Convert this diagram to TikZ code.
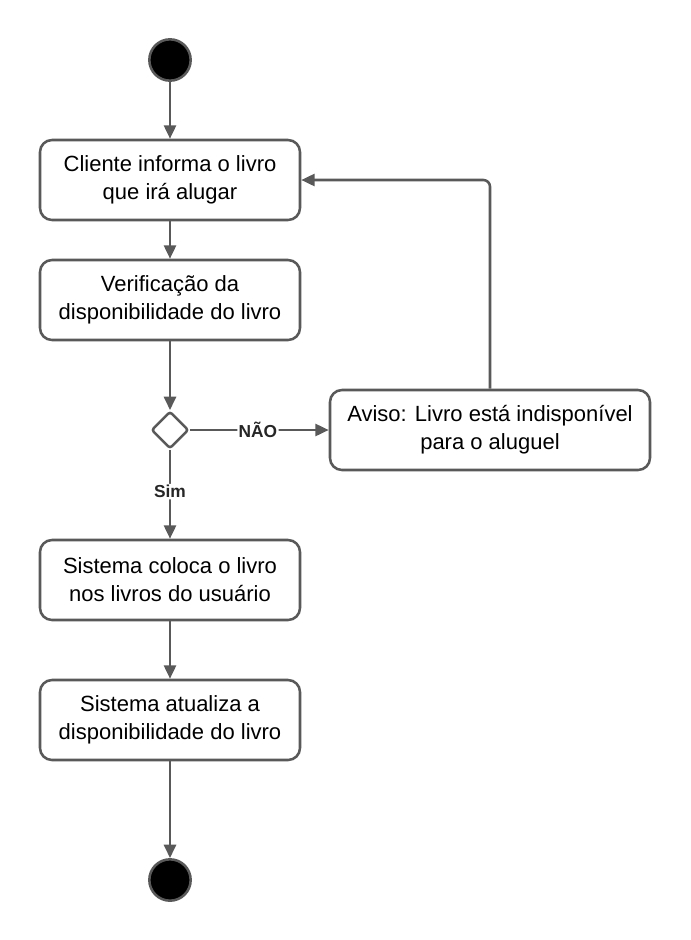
\documentclass[tikz,border=0pt]{standalone}
\usepackage{fontspec}
\setmainfont{Liberation Sans}
\usetikzlibrary{arrows.meta,shapes.geometric}
\definecolor{lc}{HTML}{595959}
\tikzset{
  x=0.75pt,y=-0.75pt,
  act/.style={draw=lc,line width=1.9pt,rounded corners=9pt,minimum width=195pt,minimum height=60pt,align=center,font=\fontsize{16.5}{21}\selectfont,inner sep=0pt},
  dot/.style={circle,draw=lc,line width=1.9pt,fill=black,minimum size=31pt,inner sep=0pt},
  dec/.style={diamond,draw=lc,line width=1.9pt,minimum size=28pt,inner sep=0pt,rounded corners=2pt},
  flow/.style={draw=lc,line width=1.9pt,-{Triangle[length=10pt,width=9pt]},rounded corners=5pt},
  lab/.style={fill=white,font=\bfseries\fontsize{13}{14}\selectfont,text=black!85,inner sep=1pt}
}
\begin{document}
\begin{tikzpicture}
\useasboundingbox (0,0) rectangle (690,940);
\node[dot] (s) at (170,60) {};
\node[act] (a1) at (170,180) {Cliente informa o livro\\que irá alugar};
\node[act] (a2) at (170,300) {Verificação da\\disponibilidade do livro};
\node[dec] (d) at (170,430) {};
\node[act,minimum width=240pt] (av) at (490,430) {Aviso: Livro está indisponível\\para o aluguel};
\node[act] (a3) at (170,580) {Sistema coloca o livro\\nos livros do usuário};
\node[act] (a4) at (170,720) {Sistema atualiza a\\disponibilidade do livro};
\node[dot] (e) at (170,880) {};
\draw[flow] (s) -- (a1);
\draw[flow] (a1) -- (a2);
\draw[flow] (a2) -- (d);
\draw[flow] (d) -- node[lab,pos=0.49]{NÃO} (av);
\draw[flow] (d) -- node[lab,pos=0.47]{Sim} (a3);
\draw[flow] (a3) -- (a4);
\draw[flow] (a4) -- (e);
\draw[flow] (av.north) |- (a1.east);
\end{tikzpicture}
\end{document}
